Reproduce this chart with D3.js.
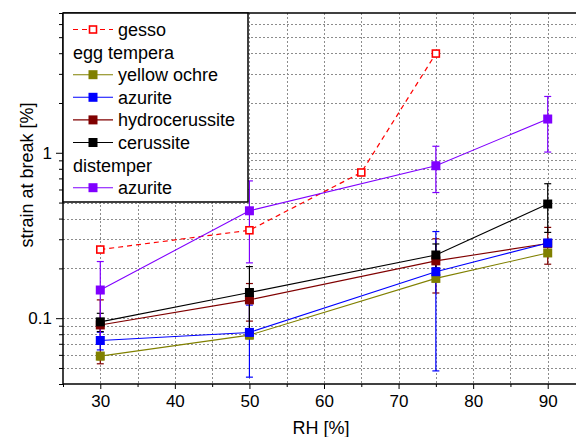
<!DOCTYPE html>
<html>
<head>
<meta charset="utf-8">
<script src="https://cdn.jsdelivr.net/npm/d3@7/dist/d3.min.js"></script>
<style>
  html, body { margin: 0; padding: 0; background: #fff; }
  svg { display: block; font-family: "Liberation Sans", Arial, sans-serif; }
</style>
</head>
<body>
<svg id="chart" width="576" height="437"></svg>
<script>
// Strain at break vs. relative humidity, per paint layer
const rh = [30, 50, 75, 90];
const gessoRH = [30, 50, 65, 75];
const gessoStrain = [0.26, 0.34, 0.76, 3.98];

const yellowOchre = [0.059, 0.079, 0.174, 0.248];
const yellowOchreErr = [0.003, 0.004, 0.008, 0.008];
const azuriteEgg = [0.0733, 0.082, 0.191, 0.285];
const azuriteEggErr = [0.009, 0.038, 0.143, 0.01];
const hydrocerussite = [0.091, 0.129, 0.222, 0.283];
const hydrocerussiteErr = [0.038, 0.033, 0.08, 0.071];
const cerussite = [0.095, 0.143, 0.241, 0.49];
const cerussiteErr = [0.012, 0.062, 0.04, 0.16];
const azuriteDistemper = [0.148, 0.446, 0.835, 1.6];
const azuriteDistemperErr = [0.072, 0.23, 0.26, 0.59];

const xMajorTicks = [30, 40, 50, 60, 70, 80, 90];
const xMinorTicks = [25, 35, 45, 55, 65, 75, 85];
const yMajorTicks = [0.1, 1];
const yMinorTicks = [0.04, 0.05, 0.06, 0.07, 0.08, 0.09, 0.2, 0.3, 0.4, 0.5, 0.6, 0.7, 0.8, 0.9, 2, 3, 4, 5, 6, 7];

const series = [
  { name: "yellow ochre", color: "#808000", y: yellowOchre, err: yellowOchreErr },
  { name: "hydrocerussite", color: "#800000", y: hydrocerussite, err: hydrocerussiteErr },
  { name: "azurite", color: "#0000ff", y: azuriteEgg, err: azuriteEggErr },
  { name: "cerussite", color: "#000000", y: cerussite, err: cerussiteErr },
  { name: "azurite", color: "#8000ff", y: azuriteDistemper, err: azuriteDistemperErr }
];

const svg = d3.select("#chart");
const plotL = 63, plotT = 13, plotB = 384, plotR = 585;

const x = d3.scaleLinear().domain([25, 95]).range([plotL, plotR]);
const y = d3.scaleLog().domain([0.04, 7]).range([plotB, plotT]);

// grid
const grid = svg.append("g").attr("stroke", "#8c8c8c").attr("stroke-width", 1).attr("stroke-dasharray", "2,2");
xMajorTicks.concat(xMinorTicks).filter(v => v > 25).forEach(v => {
  grid.append("line").attr("x1", Math.round(x(v)) + 0.5).attr("x2", Math.round(x(v)) + 0.5)
    .attr("y1", plotT).attr("y2", plotB);
});
yMajorTicks.concat(yMinorTicks).filter(v => v > 0.04 && v < 7).forEach(v => {
  grid.append("line").attr("y1", Math.round(y(v)) + 0.5).attr("y2", Math.round(y(v)) + 0.5)
    .attr("x1", plotL).attr("x2", 576);
});

// plot contents clipped to the axes frame
svg.append("clipPath").attr("id", "plotclip").append("rect")
  .attr("x", plotL).attr("y", plotT).attr("width", plotR - plotL).attr("height", plotB - plotT);
const plot = svg.append("g").attr("clip-path", "url(#plotclip)");

const capW = 3.5;
// error bars
series.forEach(s => {
  const g = plot.append("g").attr("stroke", s.color).attr("stroke-width", 1.2);
  rh.forEach((r, i) => {
    const cx = x(r), hi = y(s.y[i] + s.err[i]), lo = y(s.y[i] - s.err[i]);
    g.append("line").attr("x1", cx).attr("x2", cx).attr("y1", hi).attr("y2", lo);
    g.append("line").attr("x1", cx - capW).attr("x2", cx + capW).attr("y1", hi).attr("y2", hi);
    g.append("line").attr("x1", cx - capW).attr("x2", cx + capW).attr("y1", lo).attr("y2", lo);
  });
});

// connecting lines
const lineGen = d3.line().x(d => x(d[0])).y(d => y(d[1]));
plot.append("path").datum(d3.zip(gessoRH, gessoStrain))
  .attr("d", lineGen).attr("fill", "none").attr("stroke", "#ff0000")
  .attr("stroke-width", 1.2).attr("stroke-dasharray", "5,4");
series.forEach(s => {
  plot.append("path").datum(d3.zip(rh, s.y))
    .attr("d", lineGen).attr("fill", "none").attr("stroke", s.color).attr("stroke-width", 1.1);
});

// markers
const ms = 9;
plot.append("g").selectAll("rect").data(d3.zip(gessoRH, gessoStrain)).join("rect")
  .attr("x", d => x(d[0]) - 3.5).attr("y", d => y(d[1]) - 3.5)
  .attr("width", 7).attr("height", 7).attr("fill", "#fff")
  .attr("stroke", "#ff0000").attr("stroke-width", 1.6);
series.forEach(s => {
  plot.append("g").selectAll("rect").data(d3.zip(rh, s.y)).join("rect")
    .attr("x", d => x(d[0]) - ms / 2).attr("y", d => y(d[1]) - ms / 2)
    .attr("width", ms).attr("height", ms).attr("fill", s.color);
});

// axes
const fmtY = d => (d >= 1 ? d3.format("d")(d) : String(d));
const xAxis = d3.axisBottom(x).tickValues(xMajorTicks).tickSize(5).tickPadding(6).tickFormat(d3.format("d"));
const xMinor = d3.axisBottom(x).tickValues(xMinorTicks).tickSize(3).tickFormat("");
const yAxis = d3.axisLeft(y).tickValues(yMajorTicks).tickSize(7).tickPadding(4).tickFormat(fmtY);
const yMinor = d3.axisLeft(y).tickValues(yMinorTicks).tickSize(4).tickFormat("");

function styleAxis(g) {
  g.select(".domain").remove();
  g.selectAll("line").attr("stroke", "#000").attr("stroke-width", 1);
  g.selectAll("text").attr("fill", "#000").style("font-size", "17px")
    .style("font-family", "'Liberation Sans', Arial, sans-serif");
}
svg.append("g").attr("transform", `translate(0,${plotB})`).call(xAxis).call(styleAxis);
svg.append("g").attr("transform", `translate(0,${plotB})`).call(xMinor).call(styleAxis);
svg.append("g").attr("transform", `translate(${plotL},0)`).call(yAxis).call(styleAxis);
svg.append("g").attr("transform", `translate(${plotL},0)`).call(yMinor).call(styleAxis);

// frame: left, bottom and top edges
svg.append("line").attr("x1", plotL).attr("x2", plotL).attr("y1", plotT).attr("y2", plotB)
  .attr("stroke", "#000").attr("stroke-width", 1.5);
svg.append("line").attr("x1", plotL).attr("x2", 576).attr("y1", plotB).attr("y2", plotB)
  .attr("stroke", "#000").attr("stroke-width", 1.5);
svg.append("line").attr("x1", plotL).attr("x2", 576).attr("y1", plotT).attr("y2", plotT)
  .attr("stroke", "#000").attr("stroke-width", 1.5);

// axis titles
svg.append("text").attr("x", 321).attr("y", 434).attr("text-anchor", "middle")
  .style("font-size", "18px").text("RH [%]");
svg.append("text").attr("transform", "translate(33,175) rotate(-90)").attr("text-anchor", "middle")
  .style("font-size", "18px").text("strain at break [%]");

// legend
const lg = svg.append("g");
lg.append("rect").attr("x", plotL).attr("y", plotT).attr("width", 185).attr("height", 189)
  .attr("fill", "#fff").attr("stroke", "#000").attr("stroke-width", 1.5);
const legendRows = [
  { label: "gesso", color: "#ff0000", dashed: true },
  { label: "egg tempera", header: true },
  { label: "yellow ochre", color: "#808000" },
  { label: "azurite", color: "#0000ff" },
  { label: "hydrocerussite", color: "#800000" },
  { label: "cerussite", color: "#000000" },
  { label: "distemper", header: true },
  { label: "azurite", color: "#8000ff" }
];
legendRows.forEach((r, i) => {
  const cy = 29.5 + i * 22.6;
  if (r.header) {
    lg.append("text").attr("x", 73).attr("y", cy + 6.5).style("font-size", "18px").text(r.label);
    return;
  }
  lg.append("line").attr("x1", 73).attr("x2", 113).attr("y1", cy).attr("y2", cy)
    .attr("stroke", r.color).attr("stroke-width", 1.1)
    .attr("stroke-dasharray", r.dashed ? "5,4" : null);
  if (r.dashed) {
    lg.append("rect").attr("x", 93 - 3.5).attr("y", cy - 3.5).attr("width", 7).attr("height", 7)
      .attr("fill", "#fff").attr("stroke", r.color).attr("stroke-width", 1.6);
  } else {
    lg.append("rect").attr("x", 93 - ms / 2).attr("y", cy - ms / 2).attr("width", ms).attr("height", ms)
      .attr("fill", r.color);
  }
  lg.append("text").attr("x", 118).attr("y", cy + 6.5).style("font-size", "18px").text(r.label);
});
</script>
</body>
</html>
